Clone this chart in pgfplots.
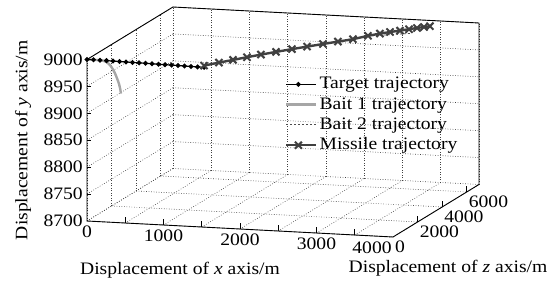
\documentclass[border=0pt]{standalone}
\usepackage{fontspec}
\setmainfont{Liberation Serif}[FakeStretch=1.12]
\usepackage{pgfplots}
\pgfplotsset{compat=1.18}
\usetikzlibrary{calc}
\newcommand{\fs}{\fontsize{17.5}{21}\selectfont}
\begin{document}
\fs
\begin{tikzpicture}
\begin{axis}[
  x={(0.0765pt,-0.004pt)}, y={(0.012286pt,0.0075pt)}, z={(0pt,0.53833pt)},
  xmin=0,xmax=4000,ymin=0,ymax=7000,zmin=8700,zmax=9000,
  clip=false,
  axis line style={draw=none},
  xtick={0,500,...,4000},
  xticklabels={0,,1000,,2000,,3000,,\makebox[0pt]{\hspace{-42pt}4000}},
  ytick={0,2000,4000,6000},
  ztick={8700,8750,...,9000},
  /pgf/number format/.cd,1000 sep={},assume math mode=true,/pgfplots/.cd,
  tick label style={font=\fs},
  x tick label style={anchor=north, inner sep=0pt, yshift=-5pt},
  y tick label style={anchor=north west, inner sep=0pt, xshift=2pt, yshift=-4pt},
  z tick label style={anchor=east, inner sep=0pt, xshift=-4pt},
  major tick length=0pt,
  tick align=inside,
  grid=major,
  grid style={dash pattern=on 0.7pt off 1.8pt, black!75, line width=0.6pt},
  every axis x label/.style={at={(axis cs:1216,0,8700)}, anchor=center, yshift=-44pt, font=\fs},
  every axis y label/.style={at={(axis cs:4000,0,8700)}, anchor=center, xshift=55pt, yshift=-31pt, font=\fs},
  every axis z label/.style={at={(axis cs:0,0,8850)}, xshift=-64pt, anchor=center, rotate=90, font=\fs},
  xlabel={Displacement of \textit{x} axis/m},
  ylabel={Displacement of \textit{z} axis/m},
  zlabel={Displacement of \textit{y} axis/m},
  legend style={at={(axis cs:0,0,8700)}, anchor=north west, xshift=198pt, yshift=146pt,
    draw=none, fill=none, font=\fs, inner sep=0pt, row sep=2pt, cells={anchor=west}},
  legend image code/.code={\draw[mark repeat=2,mark phase=2,#1] plot coordinates {(0pt,0pt) (12pt,0pt) (24pt,0pt)};
    \path (0pt,0pt) -- (30pt,0pt);},
]
\addplot3[black, line width=1.2pt, mark=*, mark size=1.8pt] coordinates {
(0,0,9000) (85,0,9000) (170,0,9000) (255,0,8999.8) (340,0,8999.6) (425,0,8999.4)
(510,0,8999.2) (595,0,8999) (680,0,8998.8) (765,0,8998.6) (850,0,8998.4) (935,0,8998.2)
(1020,0,8998) (1105,0,8997.8) (1190,0,8997.6) (1275,0,8997.4) (1360,0,8997.2) (1445,0,8997) (1530,0,8996.8)};
\addlegendentry{Target trajectory}
\addplot3[black!35, line width=2.4pt, smooth] coordinates {
(0,0,9000) (100,0,9000) (200,0,8999.5) (260,0,8997) (300,0,8992) (335,0,8985)
(366,0,8977) (395,0,8967) (418,0,8958) (435,0,8948) (444,0,8940)};
\addlegendentry{Bait 1 trajectory}
\addplot3[black!70, line width=0.7pt, dash pattern=on 2pt off 2pt] coordinates {
(2964,4741,9000) (3105,4923,9000) (3246,5104,9000) (3374,5280,9000)};
\addlegendentry{Bait 2 trajectory}
\addplot3[black!75, line width=2.4pt, mark=x, mark size=5pt, mark options={line width=2pt}] coordinates {
(1530,0,9000) (1650,467,9000) (1766,888,9000) (1881,1310,9000) (1998,1719,9000)
(2126,2147,9000) (2263,2594,9000) (2395,2997,9000) (2536,3419,9000) (2669,3810,9000)
(2802,4201,9000) (2916,4715,9000) (3017,5062,9000) (3106,5323,9000) (3199,5559,9000)
(3280,5789,9000) (3352,5988,9000) (3417,6156,9000) (3473,6292,9000)};
\addlegendentry{Missile trajectory}
\draw[black, line width=0.9pt] (axis cs:0,0,9000) -- (axis cs:0,0,8700) -- (axis cs:4000,0,8700)
  -- (axis cs:4000,7000,8700) -- (axis cs:4000,7000,9000) -- (axis cs:0,7000,9000) -- cycle;
\pgfplotsinvokeforeach{500,1000,1500,2000,2500,3000,3500}{
  \draw[black, line width=0.8pt] (axis cs:#1,0,8700) -- ++(0pt,6pt);}
\pgfplotsinvokeforeach{2000,4000,6000}{
  \draw[black, line width=0.8pt] (axis cs:4000,#1,8700) -- ++(0pt,6pt);}
\pgfplotsinvokeforeach{8750,8800,8850,8900,8950,9000}{
  \draw[black, line width=0.8pt] (axis cs:0,0,#1) -- ++(4pt,0pt);}
\coordinate (O) at (axis cs:0,0,8700);
\end{axis}
\pgfresetboundingbox
\path[use as bounding box] ($(O)+(-87pt,-61pt)$) rectangle ($(O)+(468pt,221pt)$);
\end{tikzpicture}
\end{document}
